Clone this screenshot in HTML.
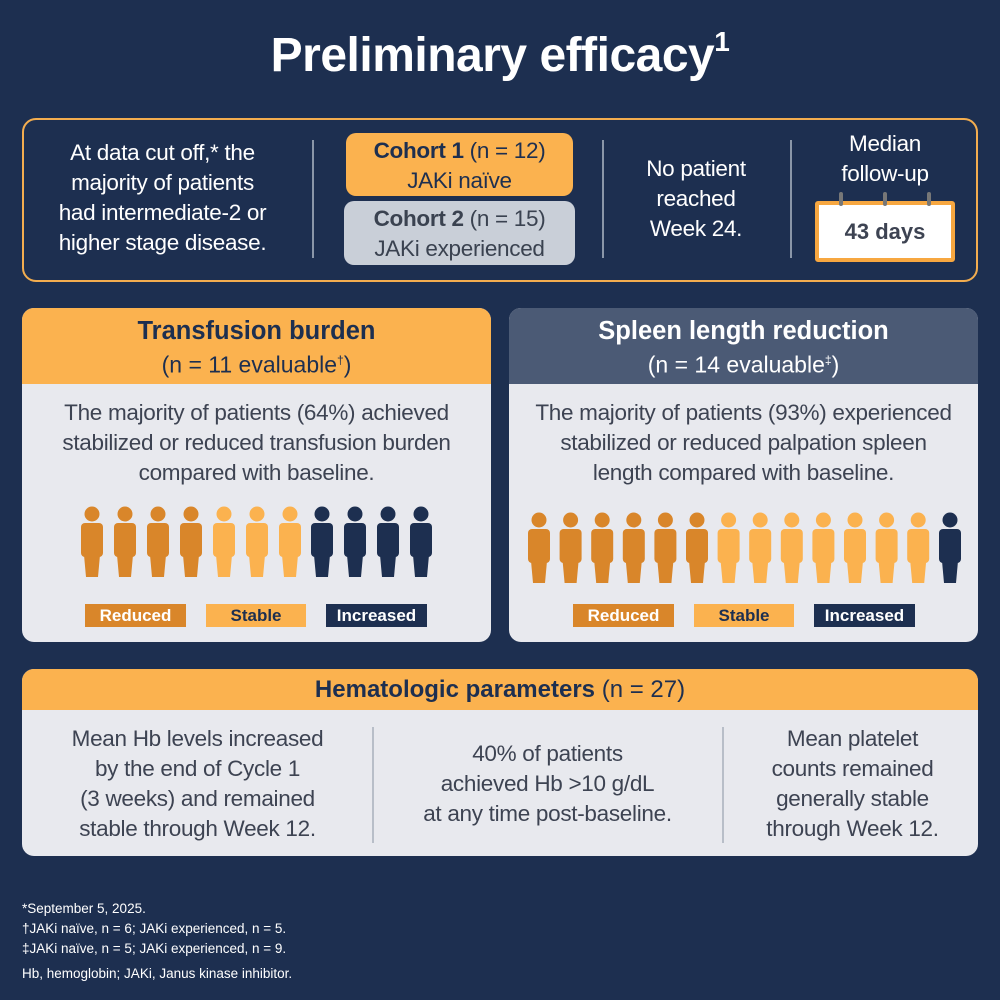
<!DOCTYPE html>
<html><head><meta charset="utf-8"><style>
*{margin:0;padding:0;box-sizing:border-box}
body{width:1000px;height:1000px;background:#1d2f50;font-family:"Liberation Sans",sans-serif;position:relative;overflow:hidden;color:#fff}
.a{position:absolute}
.c{text-align:center}
.t{font-size:22.5px;line-height:30px;letter-spacing:-0.3px;white-space:nowrap}
.dv{position:absolute;width:2px;background:#8a96a8}
.pn{position:absolute;border-radius:12px;overflow:hidden;background:#e8e9ee}
.lg{position:absolute;height:23px;font-size:17px;font-weight:bold;line-height:23px;text-align:center}
</style></head><body>
<div class="a c" style="left:0;top:26px;width:1000px;font-size:48px;font-weight:bold;letter-spacing:-0.5px">Preliminary efficacy<sup style="font-size:28px;vertical-align:20px">1</sup></div>

<div class="a" style="left:22px;top:118px;width:956px;height:164px;border:2px solid #f3ad4f;border-radius:14px"></div>
<div class="a c t" style="left:30px;top:138px;width:265px">At data cut off,* the<br>majority of patients<br>had intermediate-2 or<br>higher stage disease.</div>
<div class="dv" style="left:312px;top:140px;height:118px"></div>
<div class="dv" style="left:602px;top:140px;height:118px"></div>
<div class="dv" style="left:790px;top:140px;height:118px"></div>
<div class="a c t" style="left:346px;top:133px;width:227px;height:63px;background:#fbb24f;border-radius:10px;color:#1d2f50;padding-top:3px"><b>Cohort 1</b> (n = 12)<br>JAKi naïve</div>
<div class="a c t" style="left:344px;top:201px;width:231px;height:64px;background:#c9cfd8;border-radius:10px;color:#3a4250;padding-top:3px"><b>Cohort 2</b> (n = 15)<br>JAKi experienced</div>
<div class="a c t" style="left:610px;top:154px;width:172px">No patient<br>reached<br>Week 24.</div>
<div class="a c t" style="left:800px;top:129px;width:170px">Median<br>follow-up</div>
<div class="a c" style="left:815px;top:201px;width:140px;height:61px;background:#fff;border:4px solid #f7a740;border-radius:3px;color:#3d4352;font-size:22px;font-weight:bold;line-height:53px">43 days</div>
<div class="a" style="left:839px;top:192px;width:4px;height:14px;background:#777;border-radius:2px"></div>
<div class="a" style="left:883px;top:192px;width:4px;height:14px;background:#777;border-radius:2px"></div>
<div class="a" style="left:927px;top:192px;width:4px;height:14px;background:#777;border-radius:2px"></div>

<div class="pn" style="left:22px;top:308px;width:469px;height:334px">
<div class="c" style="background:#fbb24f;height:76px;color:#1d2f50;padding-top:8px"><div style="font-size:25.5px;font-weight:bold;line-height:30px">Transfusion burden</div><div style="font-size:23px;line-height:28px">(n = 11 evaluable<sup style="font-size:12px">†</sup>)</div></div>
<div class="c t" style="color:#3d4352;padding:14px 0 0;font-size:22.5px">The majority of patients (64%) achieved<br>stabilized or reduced transfusion burden<br>compared with baseline.</div>
</div>
<div class="pn" style="left:509px;top:308px;width:469px;height:334px">
<div class="c" style="background:#4b5a75;height:76px;color:#fff;padding-top:8px"><div style="font-size:25.5px;font-weight:bold;line-height:30px">Spleen length reduction</div><div style="font-size:23px;line-height:28px">(n = 14 evaluable<sup style="font-size:12px">‡</sup>)</div></div>
<div class="c t" style="color:#3d4352;padding:14px 0 0;font-size:22.5px">The majority of patients (93%) experienced<br>stabilized or reduced palpation spleen<br>length compared with baseline.</div>
</div>

<svg class="a" style="left:0;top:0" width="1000" height="1000">
<defs><g id="p"><circle cx="0" cy="7" r="7.5"/><rect x="-11" y="16" width="22" height="34" rx="4"/><polygon points="-8,48 8,48 6,70 -6,70"/></g></defs>
<g fill="#d9862a"><use href="#p" x="92" y="507"/><use href="#p" x="125" y="507"/><use href="#p" x="158" y="507"/><use href="#p" x="191" y="507"/></g>
<g fill="#fbb24f"><use href="#p" x="224" y="507"/><use href="#p" x="257" y="507"/><use href="#p" x="290" y="507"/></g>
<g fill="#1d2f50"><use href="#p" x="322" y="507"/><use href="#p" x="355" y="507"/><use href="#p" x="388" y="507"/><use href="#p" x="421" y="507"/></g>
<g fill="#d9862a"><use href="#p" x="539" y="513"/><use href="#p" x="570.6" y="513"/><use href="#p" x="602.2" y="513"/><use href="#p" x="633.8" y="513"/><use href="#p" x="665.4" y="513"/><use href="#p" x="697" y="513"/></g>
<g fill="#fbb24f"><use href="#p" x="728.6" y="513"/><use href="#p" x="760.2" y="513"/><use href="#p" x="791.8" y="513"/><use href="#p" x="823.4" y="513"/><use href="#p" x="855" y="513"/><use href="#p" x="886.6" y="513"/><use href="#p" x="918.2" y="513"/></g>
<g fill="#1d2f50"><use href="#p" x="950" y="513"/></g>
</svg>
<div class="lg" style="left:85px;top:604px;width:101px;background:#d9862a">Reduced</div>
<div class="lg" style="left:206px;top:604px;width:100px;background:#fbb24f;color:#1d2f50">Stable</div>
<div class="lg" style="left:326px;top:604px;width:101px;background:#1d2f50">Increased</div>
<div class="lg" style="left:573px;top:604px;width:101px;background:#d9862a">Reduced</div>
<div class="lg" style="left:694px;top:604px;width:100px;background:#fbb24f;color:#1d2f50">Stable</div>
<div class="lg" style="left:814px;top:604px;width:101px;background:#1d2f50">Increased</div>

<div class="pn" style="left:22px;top:669px;width:956px;height:187px">
<div class="c" style="background:#fbb24f;height:41px;color:#1d2f50;font-size:24px;line-height:41px"><b>Hematologic parameters</b> (n = 27)</div>
</div>
<div class="dv" style="left:372px;top:727px;height:116px;background:#b8bec8"></div>
<div class="dv" style="left:722px;top:727px;height:116px;background:#b8bec8"></div>
<div class="a c t" style="left:40px;top:724px;width:315px;color:#3d4352">Mean Hb levels increased<br>by the end of Cycle 1<br>(3 weeks) and remained<br>stable through Week 12.</div>
<div class="a c t" style="left:385px;top:739px;width:325px;color:#3d4352">40% of patients<br>achieved Hb &gt;10 g/dL<br>at any time post-baseline.</div>
<div class="a c t" style="left:735px;top:724px;width:235px;color:#3d4352">Mean platelet<br>counts remained<br>generally stable<br>through Week 12.</div>

<div class="a" style="left:22px;top:899px;font-size:13.5px;line-height:20px">*September 5, 2025.<br>†JAKi naïve, n = 6; JAKi experienced, n = 5.<br>‡JAKi naïve, n = 5; JAKi experienced, n = 9.</div>
<div class="a" style="left:22px;top:964px;font-size:13.5px;line-height:20px">Hb, hemoglobin; JAKi, Janus kinase inhibitor.</div>
</body></html>
